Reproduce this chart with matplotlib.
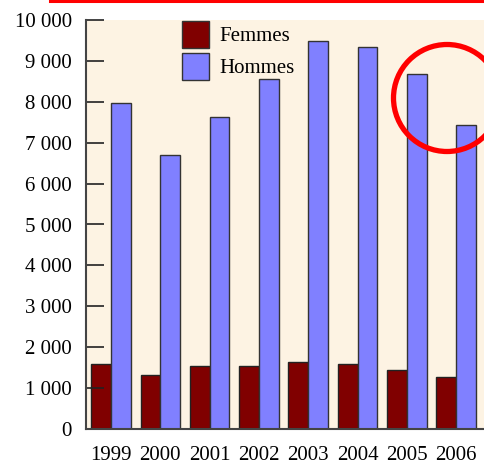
import matplotlib.pyplot as plt
import numpy as np
from matplotlib.patches import Ellipse
from matplotlib.lines import Line2D
from matplotlib.ticker import FuncFormatter

years = ['1999', '2000', '2001', '2002', '2003', '2004', '2005', '2006']
femmes = [1590, 1320, 1540, 1550, 1640, 1600, 1440, 1280]
hommes = [7980, 6690, 7630, 8550, 9490, 9340, 8690, 7440]

plt.rcParams['font.family'] = ['Liberation Serif', 'DejaVu Serif']
fs = 15

fig = plt.figure(figsize=(4.85, 4.69), dpi=100)
ax = fig.add_axes([86 / 485, 1 - 429 / 469, 399 / 485, 409 / 469])
ax.set_facecolor('#fdf3e3')

x = np.arange(len(years))
w = 0.4
ax.bar(x - w / 2, femmes, w, color='#800000', edgecolor='#222222', linewidth=1, label='Femmes')
ax.bar(x + w / 2, hommes, w, color='#8080ff', edgecolor='#333333', linewidth=1, label='Hommes')

ax.set_xlim(-0.507, 7.586)
ax.set_ylim(0, 10000)
ax.set_yticks(np.arange(0, 10001, 1000))
ax.yaxis.set_major_formatter(FuncFormatter(lambda v, p: f'{int(v):,}'.replace(',', ' ')))
ax.set_xticks(x)
ax.set_xticklabels(years)
ax.tick_params(axis='y', direction='in', length=13, width=1.2, pad=10, labelsize=fs, color='#222222')
ax.tick_params(axis='x', length=0, pad=12, labelsize=fs)

for s in ['top', 'right']:
    ax.spines[s].set_visible(False)
for s in ['left', 'bottom']:
    ax.spines[s].set_color('#444444')
    ax.spines[s].set_linewidth(1.5)

leg = ax.legend(loc='upper left', bbox_to_anchor=(0.2406, 0.998), frameon=False,
                fontsize=fs, borderpad=0, borderaxespad=0, handlelength=1.3,
                handleheight=1.6, handletextpad=0.5, labelspacing=0.27)
for p in leg.get_patches():
    p.set_edgecolor('#333333')

# red highlight marks
fig.add_artist(Line2D([50 / 485, 1.0], [1 - 1.3 / 469, 1 - 1.3 / 469],
                      transform=fig.transFigure, color='red', linewidth=2.2))
fig.add_artist(Ellipse((447 / 485, 1 - 98 / 469), 107 / 485, 107 / 469,
                       transform=fig.transFigure, fill=False, edgecolor='red', linewidth=3.8))

fig.savefig('out.png', dpi=100)
